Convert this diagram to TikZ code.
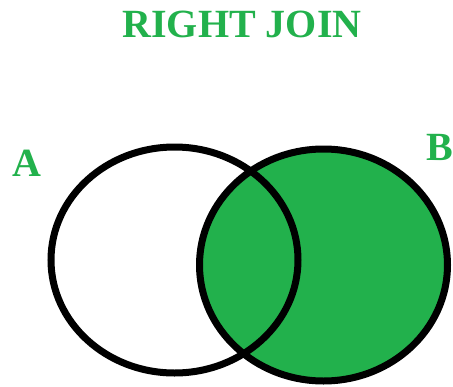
\documentclass[tikz,border=0pt]{standalone}
\usepackage{fontspec}
\setmainfont{Liberation Serif}
\definecolor{joingreen}{RGB}{34,177,76}

\begin{document}
\begin{tikzpicture}[x=1pt,y=-1pt,
  setlabel/.style={text=joingreen,inner sep=0pt,font=\fontsize{40}{40}\selectfont\bfseries},
  setring/.style={line width=7pt}]
  \useasboundingbox (0,0) rectangle (453,386);
  \node[setlabel] (title) at (242,24) {RIGHT JOIN};
  \node[setlabel] (lblA) at (27,163) {A};
  \node[setlabel] (lblB) at (440,147) {B};
  % right set is shaded, overlap included
  \fill[joingreen] (323.5,265) ellipse [x radius=124,y radius=116];
  \draw[setring] (174.5,260) ellipse [x radius=123.5,y radius=113];
  \draw[setring] (323.5,265) ellipse [x radius=124,y radius=116];
\end{tikzpicture}
\end{document}
